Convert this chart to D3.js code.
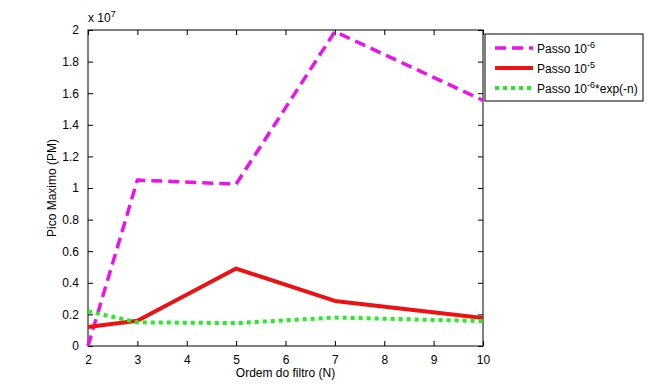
<!DOCTYPE html>
<html>
<head>
<meta charset="utf-8">
<script src="https://cdn.jsdelivr.net/npm/d3@7"></script>
<style>
  body { margin: 0; background: #fff; }
  text { font-family: Arial, "Liberation Sans", sans-serif; }
</style>
</head>
<body>
<div id="chart"></div>
<script>
// data
var ordem = [2, 3, 5, 7, 10];
var passo6 = [0.0, 1.05, 1.025, 1.99, 1.555];     // x 10^7
var passo5 = [0.12, 0.16, 0.49, 0.285, 0.177];
var passoExp = [0.22, 0.15, 0.145, 0.18, 0.158];
var xTicks = [2, 3, 4, 5, 6, 7, 8, 9, 10];
var yTicks = [0, 0.2, 0.4, 0.6, 0.8, 1, 1.2, 1.4, 1.6, 1.8, 2];

var svgWidth = 663;
var svgHeight = 388;

var margin = { top: 30, right: 180, bottom: 42, left: 88 };
var width = 483 - margin.left;
var height = 346 - margin.top;

var svg = d3.select("#chart")
    .append("svg")
    .attr("width", svgWidth)
    .attr("height", svgHeight);

var chartGroup = svg.append("g")
    .attr("transform", `translate(${margin.left}, ${margin.top})`);

var x = d3.scaleLinear().domain([2, 10]).range([0, width]);
var y = d3.scaleLinear().domain([0, 2]).range([height, 0]);

// box with inward ticks on all sides
chartGroup.append("rect")
    .attr("width", width)
    .attr("height", height)
    .attr("fill", "none")
    .attr("stroke", "#000")
    .attr("stroke-width", 1);

var fmt = d => d3.format("")(+d.toFixed(1));

var bottomAxis = d3.axisBottom(x).tickValues(xTicks).tickSizeInner(-5).tickSizeOuter(0).tickPadding(9);
var topAxis = d3.axisTop(x).tickValues(xTicks).tickSizeInner(-5).tickSizeOuter(0).tickFormat("");
var leftAxis = d3.axisLeft(y).tickValues(yTicks).tickSizeInner(-5).tickSizeOuter(0).tickPadding(9).tickFormat(fmt);
var rightAxis = d3.axisRight(y).tickValues(yTicks).tickSizeInner(-5).tickSizeOuter(0).tickFormat("");

[
    chartGroup.append("g").attr("transform", `translate(0, ${height})`).call(bottomAxis),
    chartGroup.append("g").call(topAxis),
    chartGroup.append("g").call(leftAxis),
    chartGroup.append("g").attr("transform", `translate(${width}, 0)`).call(rightAxis)
].forEach(function(g) {
    g.select(".domain").remove();
    g.selectAll("line").attr("stroke", "#000");
    g.selectAll("text").attr("font-size", 12).attr("fill", "#000");
});

// series
var series = [
    { name: "p6", values: passo6, color: "#ee11ee", dash: "11,6", width: 3.5 },
    { name: "p5", values: passo5, color: "#ee1111", dash: null, width: 4 },
    { name: "pe", values: passoExp, color: "#22ee22", dash: "4,4", width: 4 }
];

var line = d3.line()
    .x(d => x(d[0]))
    .y(d => y(d[1]));

series.forEach(function(s) {
    chartGroup.append("path")
        .datum(ordem.map((o, i) => [o, s.values[i]]))
        .attr("d", line)
        .attr("fill", "none")
        .attr("stroke", s.color)
        .attr("stroke-width", s.width)
        .attr("stroke-dasharray", s.dash)
        .attr("stroke-linejoin", "round");
});

// exponent label
var expLabel = svg.append("text")
    .attr("x", 88)
    .attr("y", 22)
    .attr("font-size", 12);
expLabel.append("tspan").text("x 10");
expLabel.append("tspan").attr("font-size", 9).attr("dy", -5).text("7");

// axis labels
svg.append("text")
    .attr("x", margin.left + width / 2)
    .attr("y", 377)
    .attr("text-anchor", "middle")
    .attr("font-size", 12)
    .text("Ordem do filtro (N)");

svg.append("text")
    .attr("transform", `translate(56, ${margin.top + height / 2}) rotate(-90)`)
    .attr("text-anchor", "middle")
    .attr("font-size", 12)
    .text("Pico Maximo (PM)");

// legend
var legend = svg.append("g").attr("transform", "translate(485, 34)");
legend.append("rect")
    .attr("width", 158)
    .attr("height", 67)
    .attr("fill", "#fff")
    .attr("stroke", "#000");

var legendLabels = [
    ["Passo 10", "-6", ""],
    ["Passo 10", "-5", ""],
    ["Passo 10", "-6", "*exp(-n)"]
];

series.forEach(function(s, i) {
    var yy = 14 + i * 20;
    legend.append("line")
        .attr("x1", 10).attr("x2", 48)
        .attr("y1", yy).attr("y2", yy)
        .attr("stroke", s.color)
        .attr("stroke-width", s.width)
        .attr("stroke-dasharray", s.dash);
    var t = legend.append("text")
        .attr("x", 52)
        .attr("y", yy + 5)
        .attr("font-size", 12);
    t.append("tspan").text(legendLabels[i][0]);
    t.append("tspan").attr("font-size", 9).attr("dy", -5).text(legendLabels[i][1]);
    t.append("tspan").attr("dy", 5).text(legendLabels[i][2]);
});
</script>
</body>
</html>
